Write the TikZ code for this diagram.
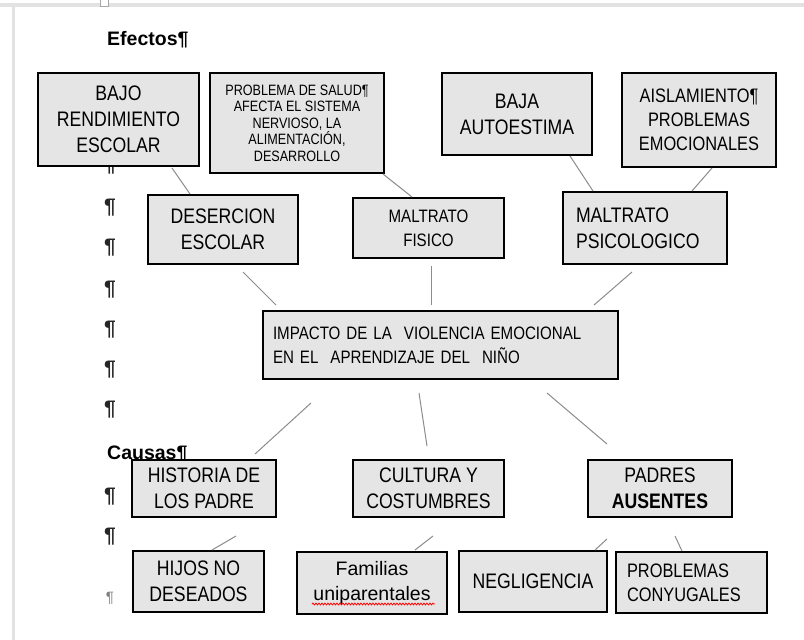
\documentclass[tikz,border=0pt]{standalone}
\usepackage{fontspec}
\setmainfont{Liberation Sans}
\newfontfamily\narrowfont{Liberation Sans}[FakeStretch=0.84]
\usetikzlibrary{decorations.pathmorphing}

\definecolor{boxfill}{RGB}{229,229,229}
\definecolor{linkgray}{RGB}{140,140,140}
\definecolor{pagegray}{RGB}{226,226,226}

\tikzset{
  box/.style={draw=black, line width=2pt, fill=boxfill, align=center, inner sep=0pt},
  big/.style={font=\narrowfont\fontsize{21}{26}\selectfont},
  mid/.style={font=\narrowfont\fontsize{19.5}{24}\selectfont},
  small/.style={font=\narrowfont\fontsize{18}{24}\selectfont},
  tiny/.style={font=\narrowfont\fontsize{15}{16.5}\selectfont},
  link/.style={draw=linkgray, line width=1pt},
  pilcrow/.style={font=\bfseries\fontsize{21}{21}\selectfont, text=black!85, inner sep=0pt},
  heading/.style={font=\bfseries\fontsize{19.5}{20}\selectfont, anchor=base west, inner sep=0pt}
}

\begin{document}
\begin{tikzpicture}[x=1pt,y=-1pt]
\useasboundingbox (0,0) rectangle (804,640);
\fill[white] (0,0) rectangle (804,640);

% page edge
\fill[pagegray] (0,3) rectangle (804,7);
\fill[pagegray] (12,3) rectangle (15,640);
\draw[gray!70, fill=white] (100,-1) rectangle (108,6);

% headings and paragraph marks
\node[heading] (efectos) at (107,45) {Efectos¶};
\node[heading] (causas) at (107,459) {Causas¶};

\foreach \y [count=\i] in {166,208,248,290,330,370,410,497,537}
  \node[pilcrow] (par\i) at (110,\y) {¶};
\node[pilcrow, text=gray, font=\fontsize{15}{15}\selectfont] (par10) at (110,598) {¶};

% efectos
\node[box, big, minimum width=161pt, minimum height=93pt] (bajo) at (118.5,119.5)
  {BAJO\\RENDIMIENTO\\ESCOLAR};
\node[box, tiny, minimum width=174pt, minimum height=100pt] (salud) at (297,123)
  {PROBLEMA DE SALUD¶\\AFECTA EL SISTEMA\\NERVIOSO, LA\\ALIMENTACIÓN,\\DESARROLLO};
\node[box, big, minimum width=150pt, minimum height=82pt] (baja) at (517,114)
  {BAJA\\AUTOESTIMA};
\node[box, mid, minimum width=154pt, minimum height=94pt] (aisla) at (699,120)
  {AISLAMIENTO¶\\PROBLEMAS\\EMOCIONALES};

\node[box, big, minimum width=150pt, minimum height=69pt] (desercion) at (223,229.5)
  {DESERCION\\ESCOLAR};
\node[box, small, minimum width=151pt, minimum height=60pt] (fisico) at (428.5,228)
  {MALTRATO\\FISICO};
\node[box, big, align=left, text width=138pt, minimum width=164pt, minimum height=72pt] (psico) at (645,228)
  {MALTRATO\\PSICOLOGICO};

% problema central
\node[box, small, align=left, text width=335pt, minimum width=355pt, minimum height=68pt] (impacto) at (440.5,345)
  {IMPACTO DE LA \ VIOLENCIA EMOCIONAL\\EN EL \ APRENDIZAJE DEL \ NIÑO};

% causas
\node[box, big, minimum width=144pt, minimum height=57pt] (historia) at (204,488.5)
  {HISTORIA DE\\LOS PADRE};
\node[box, big, minimum width=151pt, minimum height=57pt] (cultura) at (428.5,488.5)
  {CULTURA Y\\COSTUMBRES};
\node[box, big, minimum width=144pt, minimum height=57pt] (padres) at (660,488.5)
  {PADRES\\\textbf{AUSENTES}};

\node[box, big, minimum width=131pt, minimum height=61pt] (hijos) at (198.5,581.5)
  {HIJOS NO\\DESEADOS};
\node[box, font=\fontsize{19.5}{25}\selectfont, minimum width=150pt, minimum height=62pt] (familias) at (372,583)
  {Familias\\uniparentales};
\node[box, big, minimum width=148pt, minimum height=61pt] (neglig) at (533,581.5)
  {NEGLIGENCIA};
\node[box, mid, align=left, text width=129pt, minimum width=151pt, minimum height=61pt] (conyug) at (691.5,582.5)
  {PROBLEMAS\\CONYUGALES};

% spelling mark
\draw[red, line width=0.8pt, decorate, decoration={snake, amplitude=0.9pt, segment length=3pt}]
  ([shift={(-60,21)}]familias.center) -- ([shift={(63,21)}]familias.center);

% connectors
\draw[link] ([shift={(53.5,1)}]bajo.south) -- ([shift={(-33,0)}]desercion.north);
\draw[link] ([shift={(86,0)}]salud.south) -- ([shift={(-16.5,0)}]fisico.north);
\draw[link] ([shift={(53,0)}]baja.south) -- ([shift={(-52,0)}]psico.north);
\draw[link] ([shift={(13,0)}]aisla.south) -- ([shift={(47,0)}]psico.north);

\draw[link] ([shift={(20,7)}]desercion.south) -- ([shift={(-164.5,-5)}]impacto.north);
\draw[link] ([shift={(2.5,7)}]fisico.south) -- ([shift={(-9.5,-5)}]impacto.north);
\draw[link] ([shift={(-13,7)}]psico.south) -- ([shift={(153.5,-5)}]impacto.north);

\draw[link] ([shift={(-129.5,23)}]impacto.south) -- ([shift={(51,-5)}]historia.north);
\draw[link] ([shift={(-21.5,13)}]impacto.south) -- ([shift={(-1.5,-13)}]cultura.north);
\draw[link] ([shift={(106.5,13)}]impacto.south) -- ([shift={(-53,-15)}]padres.north);

\draw[link] ([shift={(32,18)}]historia.south) -- ([shift={(13.5,0)}]hijos.north);
\draw[link] ([shift={(4.5,18)}]cultura.south) -- ([shift={(43,-1)}]familias.north);
\draw[link] ([shift={(-53,21)}]padres.south) -- ([shift={(62,0)}]neglig.north);
\draw[link] ([shift={(15,18)}]padres.south) -- ([shift={(-9.5,0)}]conyug.north);

\end{tikzpicture}
\end{document}
